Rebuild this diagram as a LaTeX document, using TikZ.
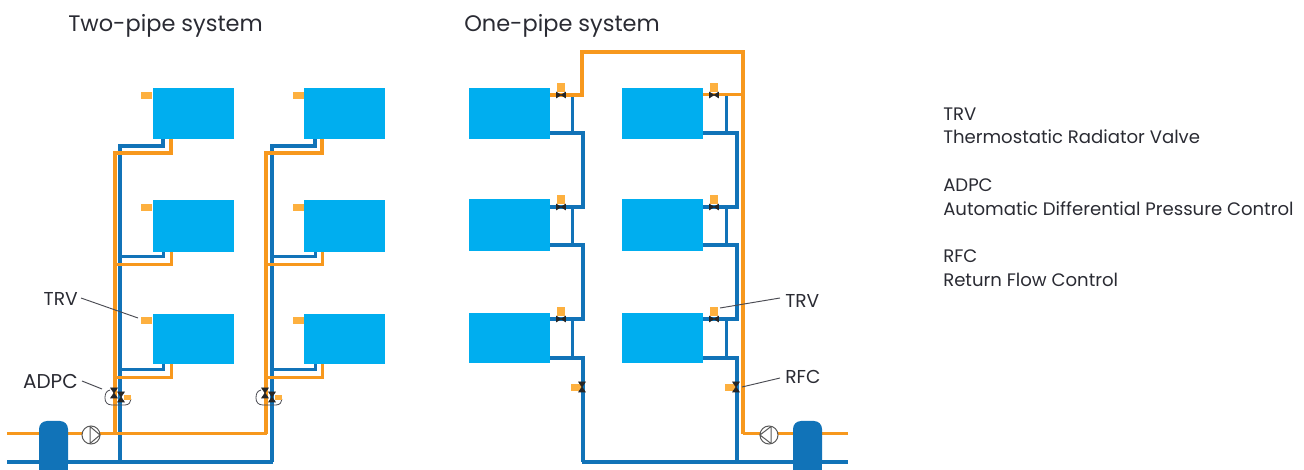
\documentclass[tikz,border=0pt]{standalone}
\usepackage{fontspec}
\setmainfont{Poppins}
\definecolor{pipeO}{HTML}{F7981D}
\definecolor{pipeB}{HTML}{1173B8}
\definecolor{radC}{HTML}{00AEEF}
\definecolor{sqC}{HTML}{FDB03F}
\definecolor{inkC}{HTML}{2A2B33}
\tikzset{
  x=0.75pt,y=-0.75pt,
  orangepipe/.style={draw=pipeO,line width=2.6pt,line join=miter},
  orangemain/.style={draw=pipeO,line width=2.25pt,line join=miter},
  orangethin/.style={draw=pipeO,line width=2.25pt,line join=miter},
  bluepipe/.style={draw=pipeB,line width=2.6pt,line join=miter},
  bluethin/.style={draw=pipeB,line width=2.25pt,line join=miter},
  leader/.style={draw=inkC!85,line width=0.7pt},
  callout/.style={text=inkC,font=\fontsize{14}{16}\selectfont,inner sep=0pt},
  title/.style={text=inkC,font=\fontsize{16.85}{20}\selectfont,inner sep=0pt,anchor=west},
  legend/.style={text=inkC,font=\fontsize{13.57}{16}\selectfont,inner sep=0pt,anchor=west},
  tank/.style={fill=pipeB,draw=none,rounded corners=6pt},
  pumpring/.style={draw=black!65,fill=white,line width=0.75pt},
  pumpmark/.style={draw=black!65,line width=0.75pt,line join=round},
  valve h/.pic={\filldraw[black!85,line width=0.4pt] (-4.5,-2.8)--(4.5,2.8)--(4.5,-2.8)--(-4.5,2.8)--cycle;},
  valve v/.pic={\filldraw[black!85,line width=0.4pt] (-3.4,-5)--(3.4,5)--(-3.4,5)--(3.4,-5)--cycle;},
}
\begin{document}
\begin{tikzpicture}
\useasboundingbox (0,0) rectangle (1304,470);

% ---- two-pipe system: pipes
\foreach \xo/\xb/\xc/\xd in {115/120/163/171,266/272/315/322}{
  \draw[bluepipe] (\xb,462) -- (\xb,146) -- (\xc,146) -- (\xc,139);
  \draw[bluethin] (\xb,257) -- (\xc,257) -- (\xc,250);
  \draw[bluethin] (\xb,370) -- (\xc,370) -- (\xc,363);
  \draw[orangepipe] (\xo,434) -- (\xo,153) -- (\xd,153) -- (\xd,139);
  \draw[orangethin] (\xo,265) -- (\xd,265) -- (\xd,250);
  \draw[orangethin] (\xo,378) -- (\xd,378) -- (\xd,363);
}
\draw[orangemain] (7,434) -- (267,434);
\draw[bluepipe] (7,462) -- (273,462);

% ---- one-pipe system: pipes
\foreach \xa/\xb/\xe in {550/572/583,703/726/737}{
  \draw[bluepipe] (\xa,133) -- (\xe,133) -- (\xe,207) -- (\xa,207);
  \draw[bluepipe] (\xa,245) -- (\xe,245) -- (\xe,319) -- (\xa,319);
  \draw[bluepipe] (\xa,358) -- (\xe,358) -- (\xe,462);
  \draw[bluethin] (\xb,96) -- (\xb,133);
  \draw[bluethin] (\xb,207) -- (\xb,245);
  \draw[bluethin] (\xb,319) -- (\xb,358);
}
\draw[bluepipe] (582,462) -- (848,462);
\draw[orangethin] (848,434) -- (743,434);
\draw[orangepipe] (743,434) -- (743,52) -- (582,52) -- (582,95) -- (550,95);
\draw[orangethin] (743,95) -- (703,95);

% ---- radiators
\foreach \xl/\yt/\yb in {153/88/139,153/200/252,153/314/364,304/88/139,304/200/252,304/314/364,
    469/88/139,469/199/251,469/313/363,622/88/139,622/199/251,622/313/363}{
  \fill[radC] (\xl,\yt) rectangle ++(81,\yb-\yt);
}

% ---- TRV heads, two-pipe
\foreach \xl in {141,293}{
  \foreach \yt in {92,204,317}{
    \fill[sqC] (\xl,\yt) rectangle ++(11,7.5);
  }
}
% ---- TRV heads and valves, one-pipe
\foreach \xv in {561,714}{
  \foreach \yv in {95,207,319}{
    \fill[sqC] (\xv-4,\yv-12) rectangle ++(8,9.5);
    \pic at (\xv,\yv) {valve h};
  }
}
% ---- RFC
\foreach \xv in {582,736}{
  \fill[sqC] (\xv-11,384) rectangle ++(11,7.5);
  \pic at (\xv,387) {valve v};
}
% ---- ADPC
\foreach \xs in {0,151}{
  \begin{scope}[xshift=\xs*0.75pt]
    \draw[inkC!85,line width=0.6pt] (110,390) .. controls (106,391) and (105,394) .. (105,398) .. controls (105,402) and (107,405) .. (112,405) -- (125,405) .. controls (129,405) and (131,402) .. (131,399);
    \fill[sqC] (124,395) rectangle ++(7,5);
    \pic at (114,393) {valve v};
    \pic at (121,397) {valve v};
  \end{scope}
}

% ---- tanks and pumps
\fill[tank] (39,470) rectangle (68,421);
\fill[tank] (793,470) rectangle (822,421);
\fill[pipeB] (39,455) rectangle (68,470);
\fill[pipeB] (793,455) rectangle (822,470);
\node[circle,pumpring,minimum size=13.5pt,inner sep=0pt] (pumpL) at (91,435) {};
\draw[pumpmark] (90,426.5) -- (100,435) -- (90,443.5) -- cycle;
\node[circle,pumpring,minimum size=13.5pt,inner sep=0pt] (pumpR) at (769,435) {};
\draw[pumpmark] (771,426.5) -- (760,435) -- (771,443.5) -- cycle;

% ---- callouts
\node[callout,anchor=east] (trvL) at (78,299) {TRV};
\node[callout,anchor=east,font=\fontsize{15}{16}\selectfont] (adpc) at (78,381) {ADPC};
\node[callout,anchor=west] (trvR) at (785,301) {TRV};
\node[callout,anchor=west] (rfc) at (785,377) {RFC};
\coordinate (trvLend) at (138,318);
\coordinate (adpcend) at (102,389);
\coordinate (trvRend) at (720,308);
\coordinate (rfcend) at (742,387);
\draw[leader] (81,298) -- (trvLend);
\draw[leader] (82,381) -- (adpcend);
\draw[leader] (780,298) -- (trvRend);
\draw[leader] (780,378) -- (rfcend);

% ---- titles
\node[title] (t1) at (68,26) {Two-pipe system};
\node[title] (t2) at (464,26) {One-pipe system};

% ---- legend
\node[legend] (l1) at (943,114) {TRV};
\node[legend] (l2) at (943,137) {Thermostatic Radiator Valve};
\node[legend] (l3) at (943,185) {ADPC};
\node[legend] (l4) at (943,208.5) {Automatic Differential Pressure Control};
\node[legend] (l5) at (943,256) {RFC};
\node[legend] (l6) at (943,280) {Return Flow Control};
\end{tikzpicture}
\end{document}
